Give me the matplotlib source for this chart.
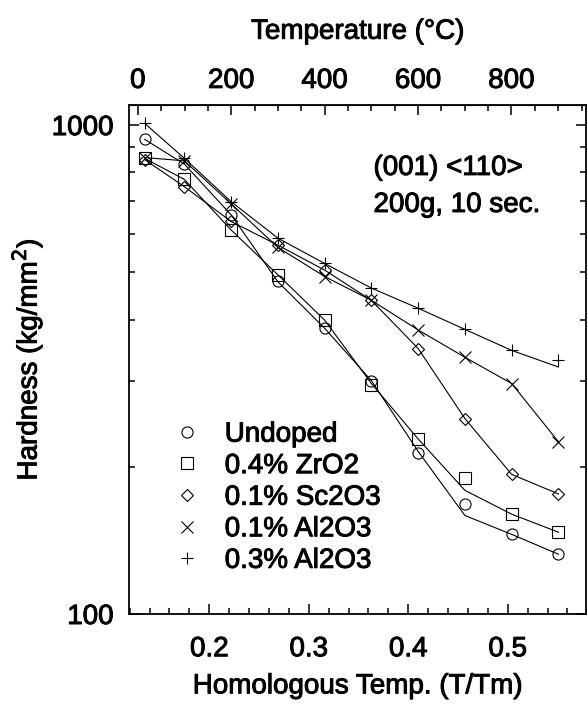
import matplotlib
matplotlib.use("Agg")
import matplotlib.pyplot as plt
import matplotlib.patheffects as pe
import numpy as np
from matplotlib.ticker import FixedLocator, NullFormatter, MultipleLocator, FuncFormatter

plt.rcParams['font.family'] = ['Liberation Sans', 'DejaVu Sans']

# melting point used for the top axis (K)
TM = 2130.0

# homologous temperature of each test (RT, 100 ... 900 C)
homTemp = [0.135, 0.175, 0.222, 0.269, 0.316, 0.363, 0.410, 0.457, 0.504, 0.551]

# measured hardness (kg/mm2)
undoped = [935, 832, 655, 480, 384, 300, 213, 168, 145.5, 132.5]
zro2 = [855, 774, 610, 494, 399, 294, 228, 190, 160, 147]
sc2o3 = [850, 748, 635, 568, 505, 438, 349, 251, 193, 176]
al2o3_01 = [858, 845, 690, 562, 490, 438, 381, 335, 296, 225]
al2o3_03 = [1008, 855, 697, 587, 521, 464, 422, 382, 346, 330]

# fitted lines drawn through the data
undopedFit = [935, 832, 655, 478, 384, 300, 215, 159, 145.5, 132.5]
zro2Fit = [855, 774, 610, 494, 399, 296, 228, 179, 160, 147]
sc2o3Fit = [850, 748, 635, 568, 505, 438, 349, 251, 193, 176]
al2o3_01Fit = [858, 845, 690, 562, 490, 438, 381, 335, 296, 225]
al2o3_03Fit = [1008, 855, 697, 587, 521, 464, 422, 382, 346, 320]

labels = ["Undoped", "0.4% ZrO2", "0.1% Sc2O3", "0.1% Al2O3", "0.3% Al2O3"]
markers = ["o", "s", "D", "x", "+"]

FONT = 20
# scanned text looks heavy, thicken it a bit
heavy = [pe.withStroke(linewidth=0.7, foreground='black')]

fig = plt.figure(figsize=(5.87, 7.05), dpi=100)
ax = fig.add_axes([129 / 587, 91 / 705, 457 / 587, 509 / 705])

series = [undoped, zro2, sc2o3, al2o3_01, al2o3_03]
fits = [undopedFit, zro2Fit, sc2o3Fit, al2o3_01Fit, al2o3_03Fit]
handles = []
for vals, fit, m, lab in zip(series, fits, markers, labels):
    ax.plot(homTemp, fit, color='black', lw=0.8)
    ms = 6 if m == 'D' else 8
    h, = ax.plot(homTemp, vals, linestyle='none', marker=m, ms=ms, mfc='none',
                 mec='black', mew=0.8, label=lab)
    handles.append(h)

ax.set_yscale('log')
ax.set_ylim(100, 1099)
ax.set_xlim(0.1193, 0.5787)

ax.yaxis.set_major_locator(FixedLocator([100, 1000]))
ax.yaxis.set_major_formatter(FuncFormatter(lambda v, p: f"{int(v)}"))
ax.yaxis.set_minor_locator(FixedLocator([200, 300, 400, 500, 600, 700, 800, 900]))
ax.yaxis.set_minor_formatter(NullFormatter())

ax.xaxis.set_major_locator(FixedLocator([0.2, 0.3, 0.4, 0.5]))
ax.xaxis.set_minor_locator(MultipleLocator(0.02))

ax.tick_params(which='both', direction='in', right=True, labelsize=FONT, width=1.1)
ax.tick_params(which='major', length=7, pad=11)
ax.tick_params(which='minor', length=4.5)
ax.tick_params(axis='x', pad=16)
for s in ax.spines.values():
    s.set_linewidth(1.3)

ax.set_xlabel("Homologous Temp. (T/Tm)", fontsize=FONT, labelpad=8)
ax.set_ylabel("Hardness (kg/mm$^2$)", fontsize=FONT, labelpad=5)

top = ax.secondary_xaxis('top', functions=(lambda x: x * TM - 273, lambda t: (t + 273) / TM))
top.xaxis.set_major_locator(FixedLocator([0, 200, 400, 600, 800]))
top.xaxis.set_minor_locator(MultipleLocator(50))
top.tick_params(which='both', direction='in', labelsize=FONT, width=1.1)
top.tick_params(which='major', length=7, pad=8)
top.tick_params(which='minor', length=4.5)
top.set_xlabel("Temperature (°C)", fontsize=FONT, labelpad=21)

ax.text(0.535, 0.84, "(001) <110>\n200g, 10 sec.", transform=ax.transAxes,
        fontsize=FONT, ha='left', va='center', linespacing=1.55, path_effects=heavy)

leg = ax.legend(handles=handles, loc='upper left', bbox_to_anchor=(0.097, 0.378),
                frameon=False, fontsize=FONT, handlelength=1.0, handletextpad=0.85,
                labelspacing=0.2, borderpad=0, borderaxespad=0)
for t in leg.get_texts():
    t.set_path_effects(heavy)

for t in (ax.get_xticklabels() + ax.get_yticklabels() + top.get_xticklabels()
          + [ax.xaxis.label, ax.yaxis.label, top.xaxis.label]):
    t.set_path_effects(heavy)

fig.savefig("out.png", dpi=100)
